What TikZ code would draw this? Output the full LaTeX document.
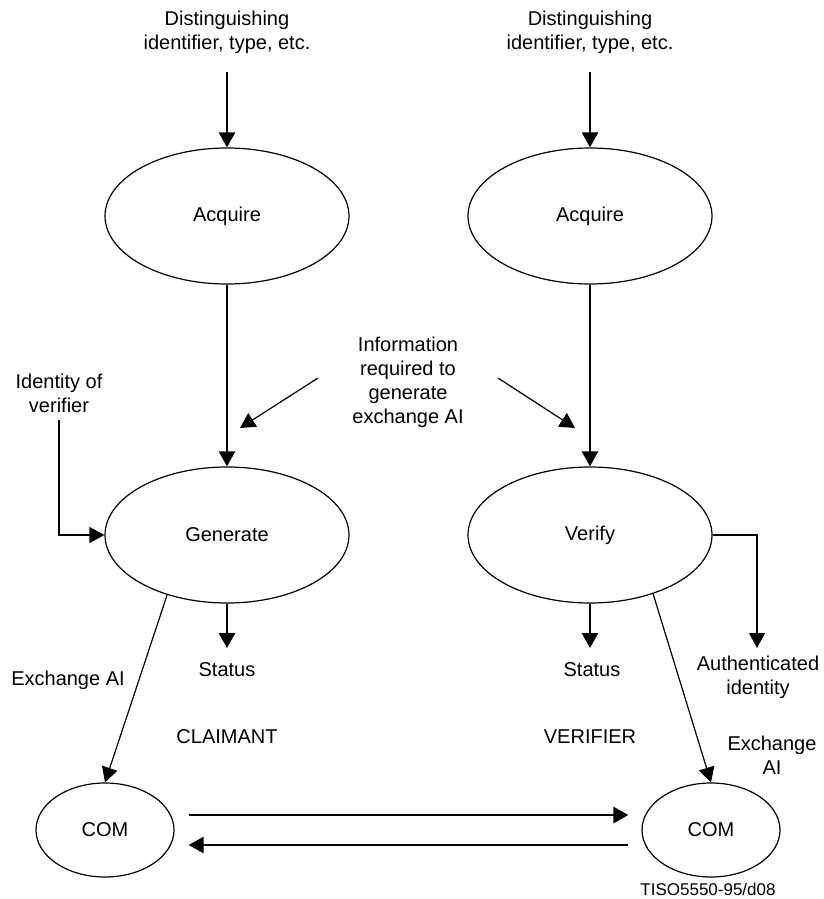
\documentclass[tikz,border=0pt]{standalone}
\usepackage{fontspec}
\setmainfont{Liberation Sans}
\usetikzlibrary{arrows.meta,shapes.geometric}
\begin{document}
\begin{tikzpicture}[x=1pt,y=-1pt,
  every node/.style={font=\fontsize{20}{24}\selectfont, inner sep=0pt},
  proc/.style={draw, ellipse, line width=1.2pt, minimum width=244pt, minimum height=136pt},
  comm/.style={draw, ellipse, line width=1.2pt, minimum width=138pt, minimum height=94pt},
  thickarr/.style={line width=2.6pt, -{Triangle[length=15pt,width=16pt]}},
  thinarr/.style={line width=1.2pt, -{Triangle[length=15pt,width=16pt]}},
  lbl/.style={align=center}]
\useasboundingbox (0,0) rectangle (824,899);

% top labels
\node[lbl] (d1) at (227,32) {Distinguishing\\identifier, type, etc.};
\node[lbl] (d2) at (590,32) {Distinguishing\\identifier, type, etc.};
\coordinate (d1s) at (227,72);
\coordinate (d2s) at (590,72);

% processes
\node[proc] (acq1) at (227,216) {Acquire};
\node[proc] (acq2) at (590,216) {Acquire};
\node[proc] (gen) at (227,535) {Generate};
\node[proc] (ver) at (590,535) {Verify};
\node[comm] (com1) at (105,830) {COM};
\node[comm] (com2) at (711,830) {COM};

\draw[thickarr] (d1s) -- (acq1.north);
\draw[thickarr] (d2s) -- (acq2.north);
\draw[thickarr] (acq1) -- (gen);
\draw[thickarr] (acq2) -- (ver);

% information
\node[lbl] (info) at (408,382) {Information\\required to\\generate\\exchange AI};
\coordinate (i1s) at (318,378);
\coordinate (i1e) at (240,428);
\coordinate (i2s) at (498,378);
\coordinate (i2e) at (575,428);
\draw[thinarr] (i1s) -- (i1e);
\draw[thinarr] (i2s) -- (i2e);

% identity of verifier
\node[lbl] (idv) at (59,393) {Identity of\\verifier};
\coordinate (idvs) at (59,420);
\draw[thinarr] (idvs) |- (gen.west);

% status
\coordinate (st1e) at (227,648);
\coordinate (st2e) at (590,648);
\draw[thickarr] (gen.south) -- (st1e);
\draw[thickarr] (ver.south) -- (st2e);
\node (st1) at (227,670) {Status};
\node (st2) at (592,670) {Status};

% authenticated identity
\coordinate (aue) at (757,648);
\draw[thinarr] (ver.east) -| (aue);
\node[lbl] (au) at (758,677) {Authenticated\\identity};

% exchange AI
\draw[thinarr] (gen.225) -- (com1.north);
\draw[thinarr] (ver.317) -- (com2.north);
\node (ex1) at (68,680) {Exchange AI};
\node[lbl] (ex2) at (772,755) {Exchange\\AI};

\node (cl) at (227,737) {CLAIMANT};
\node (vf) at (590,737) {VERIFIER};

% COM exchange
\draw[thickarr] ([xshift=14pt,yshift=15pt]com1.east) -- ([xshift=-13pt,yshift=15pt]com2.west);
\draw[thickarr] ([xshift=-13pt,yshift=-15pt]com2.west) -- ([xshift=14pt,yshift=-15pt]com1.east);

\node[font=\fontsize{17}{20}\selectfont] (tiso) at (708,889) {TISO5550-95/d08};
\end{tikzpicture}
\end{document}
